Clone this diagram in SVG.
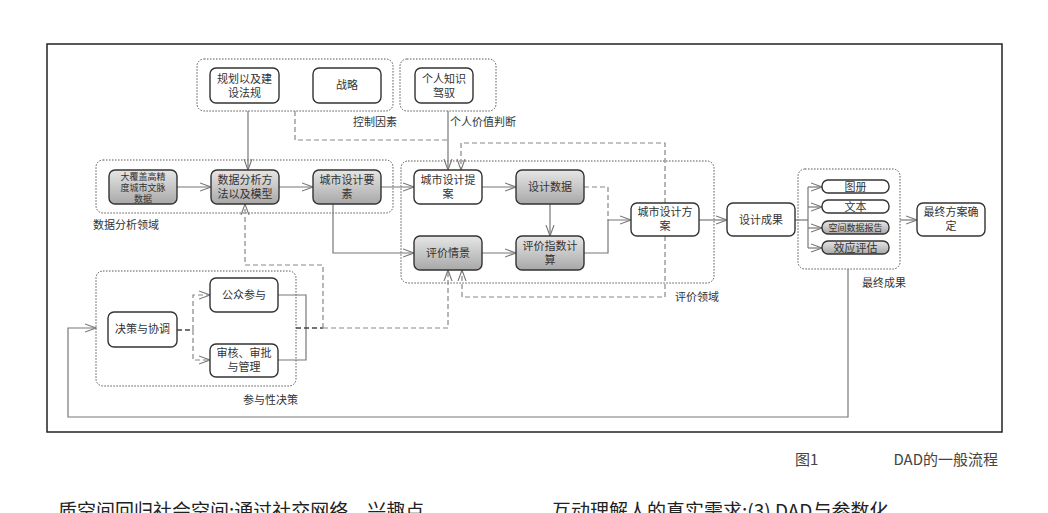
<svg xmlns="http://www.w3.org/2000/svg" width="1048" height="513" viewBox="0 0 1048 513">
<defs>
<linearGradient id="g" x1="0" y1="0" x2="0" y2="1"><stop offset="0" stop-color="#e6e6e6"/><stop offset="1" stop-color="#a8a8a8"/></linearGradient>
<marker id="a" markerWidth="12" markerHeight="10" refX="11" refY="5" orient="auto" markerUnits="userSpaceOnUse"><path d="M0,1 L11,5 L0,9" fill="none" stroke="#777" stroke-width="1.1"/></marker>
</defs>
<style>
text{font-family:"Noto Sans CJK SC","Liberation Sans",sans-serif;font-size:11px;fill:#333;text-anchor:middle}
.lbl{text-anchor:start}
.n{fill:#fff;stroke:#333;stroke-width:1.4}
.gr{fill:url(#g);stroke:#333;stroke-width:1.4}
.grp{fill:none;stroke:#555;stroke-width:1;stroke-dasharray:1.5 1.5}
.s{fill:none;stroke:#777;stroke-width:1.2}
.d{fill:none;stroke:#888;stroke-width:1.2;stroke-dasharray:5 3}
.dk{fill:none;stroke:#444;stroke-width:1.6;stroke-dasharray:5 3}
</style>
<rect width="1048" height="513" fill="#fff"/>
<rect x="47" y="44" width="955" height="388" fill="none" stroke="#222" stroke-width="1.5"/>
<g id="groups">
<rect class="grp" x="197" y="59" width="196" height="52" rx="7"/>
<rect class="grp" x="400" y="59" width="96" height="52" rx="7"/>
<rect class="grp" x="96" y="160" width="297" height="53" rx="7"/>
<rect class="grp" x="401" y="161" width="313" height="122" rx="7"/>
<rect class="grp" x="798" y="169" width="102" height="100" rx="7"/>
<rect class="grp" x="96" y="271" width="200" height="115" rx="7"/>
<text class="lbl" x="353" y="126">控制因素</text>
<text class="lbl" x="450" y="126">个人价值判断</text>
<text class="lbl" x="93" y="229">数据分析领域</text>
<text class="lbl" x="675" y="301">评价领域</text>
<text class="lbl" x="862" y="287">最终成果</text>
<text class="lbl" x="243" y="404">参与性决策</text>
</g>
<g id="connectors">
<path class="s" d="M248,111 V170" marker-end="url(#a)"/>
<path class="s" d="M448,111 V170" marker-end="url(#a)"/>
<path class="d" d="M295,111 V140 H448"/>
<path class="s" d="M177,187 H211" marker-end="url(#a)"/>
<path class="s" d="M279,187 H313" marker-end="url(#a)"/>
<path class="s" d="M381,187 H414" marker-end="url(#a)"/>
<path class="s" d="M333,204 V253 H414" marker-end="url(#a)"/>
<path class="s" d="M482,187 H516" marker-end="url(#a)"/>
<path class="s" d="M550,204 V236" marker-end="url(#a)"/>
<path class="s" d="M482,253 H516" marker-end="url(#a)"/>
<path class="d" d="M584,187 H608 V220"/>
<path class="s" d="M584,253 H608 V220 H631" marker-end="url(#a)"/>
<path class="d" d="M665,203 V143 H461 V170" marker-end="url(#a)"/>
<path class="d" d="M665,236 V297 H462 V270" marker-end="url(#a)"/>
<path class="s" d="M699,220 H727" marker-end="url(#a)"/>
<path class="s" stroke="#333" d="M795,220 H808"/>
<path class="s" d="M808,187 V248"/>
<path class="s" d="M808,187 H822" marker-end="url(#a)"/>
<path class="s" d="M808,207 H822" marker-end="url(#a)"/>
<path class="s" d="M808,228 H822" marker-end="url(#a)"/>
<path class="s" d="M808,248 H822" marker-end="url(#a)"/>
<path class="s" d="M900,220 H917" marker-end="url(#a)"/>
<path class="s" d="M848,269 V417 H68 V328 H96" marker-end="url(#a)"/>
<path class="dk" d="M177,330 H193"/>
<path class="d" d="M193,330 V295 H210" marker-end="url(#a)"/>
<path class="d" d="M193,330 V360 H210" marker-end="url(#a)"/>
<path class="s" d="M278,295 H306 V360 H278"/>
<path class="dk" d="M296,328 H323"/>
<path class="d" d="M323,328 V265 H245 V204" marker-end="url(#a)"/>
<path class="d" d="M323,328 H448 V270" marker-end="url(#a)"/>
</g>
<g id="n1"><rect class="n" x="210" y="68" width="69" height="35" rx="6"/><text x="244.5" y="83">规划以及建</text><text x="244.5" y="97">设法规</text></g>
<g id="n2"><rect class="n" x="313" y="68" width="68" height="35" rx="6"/><text x="347" y="89">战略</text></g>
<g id="n3"><rect class="n" x="415" y="68" width="58" height="35" rx="6"/><text x="444" y="83">个人知识</text><text x="444" y="97">驾驭</text></g>
<g id="n4"><rect class="gr" x="109" y="170" width="68" height="34" rx="6"/><text x="143" y="180" style="font-size:9px">大覆盖高精</text><text x="143" y="191" style="font-size:9px">度城市文脉</text><text x="143" y="202" style="font-size:9px">数据</text></g>
<g id="n5"><rect class="gr" x="211" y="170" width="68" height="34" rx="6"/><text x="245" y="184">数据分析方</text><text x="245" y="198">法以及模型</text></g>
<g id="n6"><rect class="gr" x="313" y="170" width="68" height="34" rx="6"/><text x="347" y="184">城市设计要</text><text x="347" y="198">素</text></g>
<g id="n7"><rect class="n" x="414" y="170" width="68" height="34" rx="6"/><text x="448" y="184">城市设计提</text><text x="448" y="198">案</text></g>
<g id="n8"><rect class="gr" x="516" y="170" width="68" height="34" rx="6"/><text x="550" y="191">设计数据</text></g>
<g id="n9"><rect class="gr" x="414" y="236" width="68" height="34" rx="6"/><text x="448" y="257">评价情景</text></g>
<g id="n10"><rect class="gr" x="516" y="236" width="68" height="34" rx="6"/><text x="550" y="250">评价指数计</text><text x="550" y="264">算</text></g>
<g id="n11"><rect class="n" x="631" y="203" width="68" height="33" rx="6"/><text x="665" y="216">城市设计方</text><text x="665" y="230">案</text></g>
<g id="n12"><rect class="n" x="727" y="203" width="68" height="33" rx="6"/><text x="761" y="224">设计成果</text></g>
<g id="n13"><rect class="n" x="822" y="180" width="67" height="13" rx="6"/><text x="855.5" y="191">图册</text></g>
<g id="n14"><rect class="n" x="822" y="200" width="67" height="13" rx="6"/><text x="855.5" y="211">文本</text></g>
<g id="n15"><rect class="gr" x="822" y="221" width="67" height="13" rx="6"/><text x="855.5" y="231" style="font-size:9px">空间数据报告</text></g>
<g id="n16"><rect class="gr" x="822" y="241" width="67" height="13" rx="6"/><text x="855.5" y="252">效应评估</text></g>
<g id="n17"><rect class="n" x="917" y="203" width="68" height="33" rx="6"/><text x="951" y="216">最终方案确</text><text x="951" y="230">定</text></g>
<g id="n18"><rect class="n" x="108" y="312" width="69" height="35" rx="6"/><text x="142.5" y="333">决策与协调</text></g>
<g id="n19"><rect class="n" x="210" y="278" width="68" height="34" rx="6"/><text x="244" y="299">公众参与</text></g>
<g id="n20"><rect class="n" x="210" y="344" width="68" height="33" rx="6"/><text x="244" y="357">审核、审批</text><text x="244" y="371">与管理</text></g>
<text x="795" y="465" style="font-size:15px;text-anchor:start;fill:#444">图1</text>
<text x="998" y="465" style="font-size:15px;text-anchor:end;fill:#444">DAD的一般流程</text>
<text x="58" y="518" style="font-size:19px;text-anchor:start;fill:#222">质空间回归社会空间;通过社交网络、兴趣点、</text>
<text x="552" y="518" style="font-size:19px;text-anchor:start;fill:#222">互动理解人的真实需求;(3) DAD与参数化</text>
</svg>
